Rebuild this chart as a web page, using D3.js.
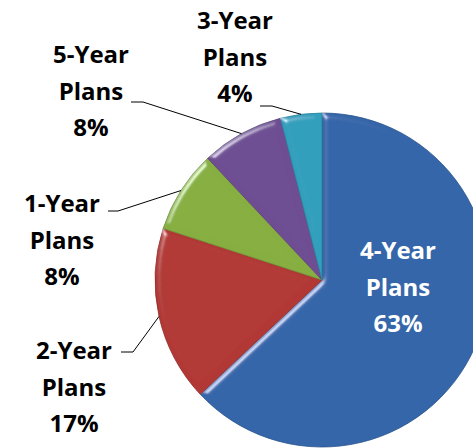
<!DOCTYPE html>
<html>
<head>
<meta charset="utf-8">
<script src="https://cdn.jsdelivr.net/npm/d3@7/dist/d3.min.js"></script>
<style>
  html, body { margin: 0; padding: 0; background: #fff; }
  svg { display: block; }
  text { font-family: "Open Sans", "Noto Sans", sans-serif; font-weight: 700; }
</style>
</head>
<body>
<div id="chart"></div>
<script>
// chart data
const categories = ["4-Year", "2-Year", "1-Year", "5-Year", "3-Year"];
const values = [63, 17, 8, 8, 4];
const colors = ["#3b74c0", "#c8403c", "#99c54a", "#7d58a6", "#36b4d6"];

// label layout: text anchor point and leader elbow
const labelLayout = [
    { x: 398, y: 259, inside: true },
    { x: 74, y: 359, elbow: [133, 352], end: [121, 352] },
    { x: 62, y: 212, elbow: [118, 211], end: [108, 211] },
    { x: 91, y: 63, elbow: [143, 102], end: [131, 102] },
    { x: 235, y: 29, elbow: [272, 106], end: [260, 106] }
];

const width = 473, height = 448;
const cx = 322, cy = 280, radius = 167;
const lineGap = 36.5;

const svg = d3.select("#chart").append("svg")
    .attr("width", width)
    .attr("height", height);

const defs = svg.append("defs");

// soft bevel, light from upper left
const bevel = defs.append("filter").attr("id", "bevel")
    .attr("x", "-10%").attr("y", "-10%").attr("width", "120%").attr("height", "120%");
bevel.append("feGaussianBlur").attr("in", "SourceAlpha").attr("stdDeviation", 3).attr("result", "blur");
bevel.append("feSpecularLighting").attr("in", "blur").attr("surfaceScale", 4)
    .attr("specularConstant", 0.9).attr("specularExponent", 40)
    .attr("lighting-color", "#ffffff").attr("result", "spec")
    .append("feDistantLight").attr("azimuth", 225).attr("elevation", 30);
bevel.append("feComposite").attr("in", "spec").attr("in2", "SourceAlpha")
    .attr("operator", "in").attr("result", "specIn");
bevel.append("feComposite").attr("in", "SourceGraphic").attr("in2", "specIn")
    .attr("operator", "arithmetic").attr("k1", 0).attr("k2", 1).attr("k3", 0.6).attr("k4", 0);

colors.forEach((c, i) => {
    const gr = defs.append("radialGradient").attr("id", "grad" + i)
        .attr("gradientUnits", "userSpaceOnUse")
        .attr("cx", cx).attr("cy", cy).attr("r", radius);
    gr.append("stop").attr("offset", "0%").attr("stop-color", d3.color(c).brighter(0.15));
    gr.append("stop").attr("offset", "92%").attr("stop-color", c);
    gr.append("stop").attr("offset", "100%").attr("stop-color", d3.color(c).darker(0.35));
});

const pie = d3.pie().sort(null).value(d => d.value);
const arcs = pie(categories.map((name, i) => ({ name, value: values[i], i })));

const arc = d3.arc().innerRadius(0).outerRadius(radius);

const g = svg.append("g").attr("transform", `translate(${cx},${cy})`);

g.selectAll("path.slice")
    .data(arcs)
    .join("path")
    .attr("class", "slice")
    .attr("d", arc)
    .attr("fill", d => `url(#grad${d.data.i})`)
    .attr("stroke", d => d3.color(colors[d.data.i]).darker(0.9))
    .attr("stroke-width", 0.8)
    .attr("filter", "url(#bevel)");

// leader lines
const lines = svg.append("g");
arcs.forEach((d, i) => {
    const L = labelLayout[i];
    if (L.inside) return;
    const mid = (d.startAngle + d.endAngle) / 2;
    const px = cx + radius * Math.sin(mid);
    const py = cy - radius * Math.cos(mid);
    lines.append("path")
        .attr("d", d3.line()([L.end, L.elbow, [px, py]]))
        .attr("fill", "none")
        .attr("stroke", "#000")
        .attr("stroke-width", 1);
});

// labels
const fmt = v => v + "%";
const labels = svg.append("g");
arcs.forEach((d, i) => {
    const L = labelLayout[i];
    const t = labels.append("text")
        .attr("text-anchor", "middle")
        .attr("font-size", 24)
        .attr("fill", L.inside ? "#ffffff" : "#000000");
    [d.data.name, "Plans", fmt(d.data.value)].forEach((s, k) => {
        t.append("tspan").attr("x", L.x).attr("y", L.y + k * lineGap).text(s);
    });
});
</script>
</body>
</html>
